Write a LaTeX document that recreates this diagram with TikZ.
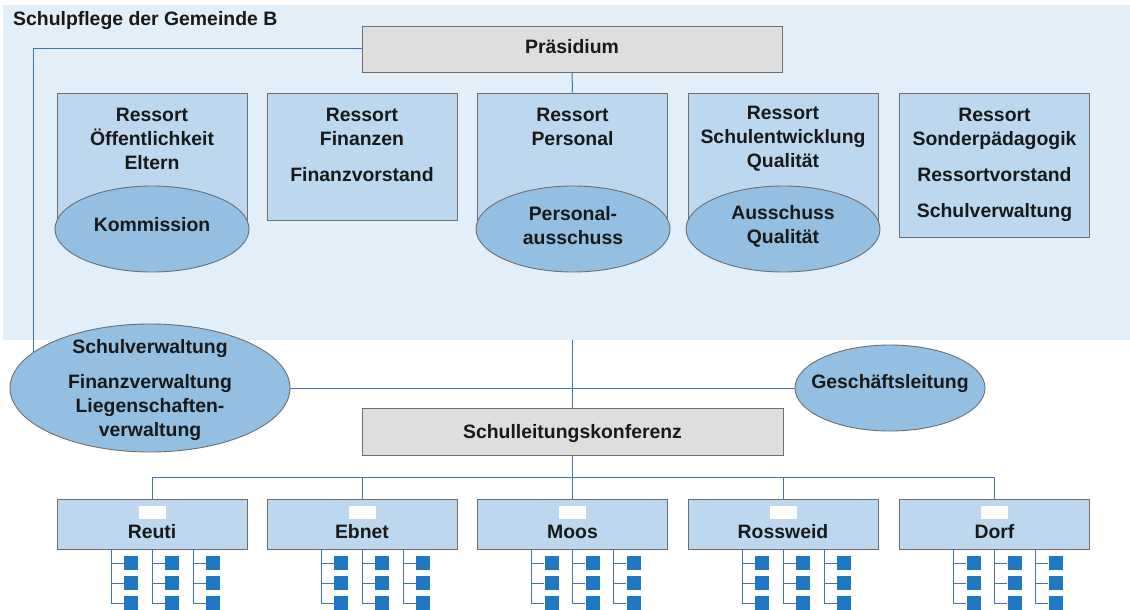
\documentclass[tikz,border=0pt]{standalone}
\usepackage{fontspec}
\setmainfont{Liberation Sans}
\usetikzlibrary{shapes.geometric}
\definecolor{bgblue}{HTML}{E2EEF8}
\definecolor{boxblue}{HTML}{BDD8EE}
\definecolor{ellblue}{HTML}{93BFE3}
\definecolor{grayfill}{HTML}{DFDEDE}
\definecolor{edgegray}{HTML}{6E6E6E}
\definecolor{linkblue}{HTML}{4472B8}
\definecolor{sqblue}{HTML}{1E78C2}
\pgfdeclarelayer{bglayer}
\pgfdeclarelayer{linelayer}
\pgfsetlayers{bglayer,linelayer,main}
\begin{document}
\begin{tikzpicture}[x=1pt,y=-1pt,
  txt/.style={font=\bfseries\fontsize{19.4}{24}\selectfont, align=center, inner sep=0pt, text=black!90},
  ressort/.style={draw=edgegray, fill=boxblue, line width=0.9pt, inner sep=0pt, minimum width=190pt},
  grayboxstyle/.style={draw=edgegray, fill=grayfill, line width=0.9pt, inner sep=0pt, minimum width=420pt, minimum height=46pt},
  ell/.style={ellipse, draw=edgegray, fill=ellblue, line width=0.9pt, inner sep=0pt},
  school/.style={draw=edgegray, fill=boxblue, line width=0.9pt, inner sep=0pt, minimum width=190pt, minimum height=50pt},
  tag/.style={fill=white, inner sep=0pt, minimum width=27pt, minimum height=13pt},
  unit/.style={fill=sqblue, inner sep=0pt, minimum width=14pt, minimum height=14pt},
  link/.style={draw=linkblue, line width=1pt},
]
\useasboundingbox (0,0) rectangle (1130,610);

% background region
\begin{pgfonlayer}{bglayer}
\fill[white] (0,0) rectangle (1130,610);
\node[fill=bgblue, inner sep=0pt, minimum width=1127pt, minimum height=335pt, anchor=north west] (bg) at (3,5) {};
\end{pgfonlayer}

\node[txt, anchor=west] (title) at (13,21) {Schulpflege der Gemeinde B};

% Praesidium
\node[grayboxstyle] (prs) at (572,49) {};
\node[txt] (prst) at (572,47) {Präsidium};

% Ressorts
\node[ressort, minimum height=132pt] (r1) at (152,159) {};
\node[ressort, minimum height=127pt] (r2) at (362,156.5) {};
\node[ressort, minimum height=132pt] (r3) at (572.5,159) {};
\node[ressort, minimum height=132pt] (r4) at (783,159) {};
\node[ressort, minimum height=144pt] (r5) at (994.5,165) {};

\node[txt] (r1t) at (152,139) {Ressort\\Öffentlichkeit\\Eltern};
\node[txt] (r2t) at (362,145) {Ressort\\Finanzen\\[12pt]Finanzvorstand};
\node[txt] (r3t) at (572.5,127) {Ressort\\Personal};
\node[txt] (r4t) at (783,139) {Ressort\\Schulentwicklung\\Qualität};
\node[txt] (r5t) at (994.5,165) {Ressort\\Sonderpädagogik\\[12pt]Ressortvorstand\\[12pt]Schulverwaltung};

% Ellipses in the Ressorts
\node[ell, minimum width=194pt, minimum height=86pt] (e1) at (152,229) {};
\node[ell, minimum width=194pt, minimum height=86pt] (e3) at (573,229) {};
\node[ell, minimum width=194pt, minimum height=86pt] (e4) at (783,229) {};
\node[txt] (e1t) at (152,225) {Kommission};
\node[txt] (e3t) at (573,226) {Personal-\\ausschuss};
\node[txt] (e4t) at (783,226) {Ausschuss\\Qualität};

% lower ellipses
\node[ell, minimum width=280pt, minimum height=128pt] (sv) at (150,388) {};
\node[txt] (svt) at (150,390) {Schulverwaltung\\[11pt]Finanzverwaltung\\Liegenschaften-\\verwaltung};
\node[ell, minimum width=190pt, minimum height=86pt] (gl) at (890,388) {};
\node[txt] (glt) at (890,384) {Geschäftsleitung};

% Schulleitungskonferenz
\node[grayboxstyle, minimum width=421pt, minimum height=47pt] (slk) at (572.5,432) {};
\node[txt] (slkt) at (572.5,434) {Schulleitungskonferenz};

% schools
\coordinate (bus) at (572.5,477);
\foreach \name/\cx in {Reuti/152, Ebnet/362, Moos/572.5, Rossweid/783, Dorf/994.5}{
  \node[school] (\name) at (\cx,524) {};
  \node[tag] (\name-tag) at (\cx,512.5) {};
  \node[txt] (\name-t) at (\cx,532) {\name};
  \foreach \col in {-41,0,41}{
    \coordinate (\name-c\col) at (\cx+\col,549);
    \foreach \row in {563,583,603}{
      \node[unit] (\name-u\col-\row) at (\cx+\col+20,\row) {};
    }
    \begin{pgfonlayer}{linelayer}
      \draw[link] (\name-c\col) |- (\name-u\col-603.west);
      \draw[link] (\name-c\col |- \name-u\col-563) -- (\name-u\col-563.west);
      \draw[link] (\name-c\col |- \name-u\col-583) -- (\name-u\col-583.west);
    \end{pgfonlayer}
  }
  \begin{pgfonlayer}{linelayer}
    \draw[link] (\name.north) |- (bus);
  \end{pgfonlayer}
}

% connectors
\coordinate (lc) at (33,49);
\begin{pgfonlayer}{linelayer}
  \draw[link] (prs.west) -- (lc) -- (lc |- sv.center);
  \draw[link] (prs.south) -- (r3.north);
  \draw[link] (bg.south -| slk.north) -- (slk.north);
  \draw[link] (sv.center) -- (gl.center);
  \draw[link] (slk.south) -- (bus);
\end{pgfonlayer}
\end{tikzpicture}
\end{document}
